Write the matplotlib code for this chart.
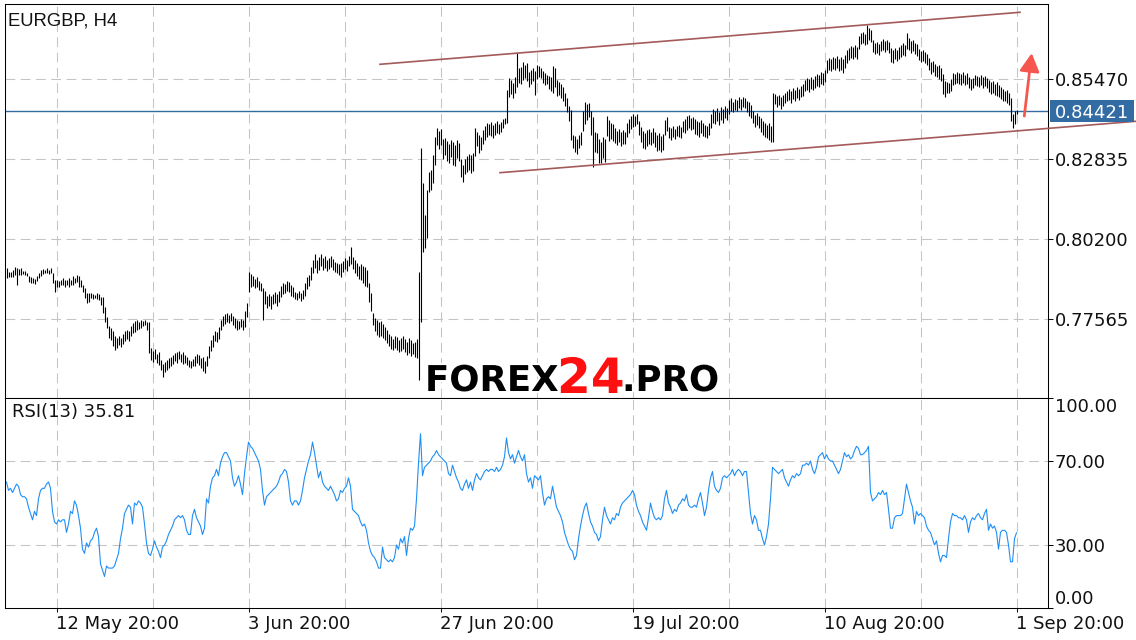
import numpy as np
import matplotlib.pyplot as plt
from matplotlib.patches import Rectangle
from matplotlib import patheffects
from matplotlib.transforms import blended_transform_factory

plt.rcParams['lines.scale_dashes'] = False

# chart data
symbol = 'EURGBP, H4'
last_price = 0.84421
rsi_period = 13

price_ticks = [0.77565, 0.80200, 0.82835, 0.85470]
rsi_ticks = [0, 30, 70, 100]
date_labels = ['12 May 20:00', '3 Jun 20:00', '27 Jun 20:00',
               '19 Jul 20:00', '10 Aug 20:00', '1 Sep 20:00']
date_pos = [25, 121, 217, 313, 409, 505]
grid_pos = [25, 73, 121, 169, 217, 265, 313, 361, 409, 457, 505]

high = [
    0.7923, 0.7910, 0.7910, 0.7917, 0.7927, 0.7923, 0.7920, 0.7923, 0.7913, 0.7913,
    0.7907, 0.7897, 0.7893, 0.7890, 0.7887, 0.7897, 0.7907, 0.7917, 0.7920, 0.7917,
    0.7923, 0.7917, 0.7923, 0.7907, 0.7884, 0.7884, 0.7880, 0.7884, 0.7890, 0.7884,
    0.7884, 0.7890, 0.7884, 0.7897, 0.7890, 0.7900, 0.7897, 0.7884, 0.7868, 0.7857,
    0.7841, 0.7841, 0.7841, 0.7838, 0.7835, 0.7841, 0.7838, 0.7828, 0.7828, 0.7795,
    0.7762, 0.7733, 0.7726, 0.7716, 0.7700, 0.7693, 0.7700, 0.7693, 0.7706, 0.7716,
    0.7720, 0.7716, 0.7733, 0.7743, 0.7749, 0.7752, 0.7746, 0.7752, 0.7749, 0.7752,
    0.7746, 0.7746, 0.7660, 0.7650, 0.7656, 0.7640, 0.7646, 0.7620, 0.7607, 0.7614,
    0.7620, 0.7627, 0.7630, 0.7637, 0.7643, 0.7646, 0.7650, 0.7640, 0.7646, 0.7637,
    0.7630, 0.7620, 0.7617, 0.7623, 0.7633, 0.7640, 0.7637, 0.7627, 0.7630, 0.7617,
    0.7633, 0.7666, 0.7686, 0.7703, 0.7716, 0.7713, 0.7729, 0.7752, 0.7765, 0.7772,
    0.7775, 0.7768, 0.7775, 0.7765, 0.7759, 0.7752, 0.7749, 0.7755, 0.7752, 0.7782,
    0.7808, 0.7910, 0.7903, 0.7897, 0.7887, 0.7893, 0.7880, 0.7874, 0.7857, 0.7848,
    0.7831, 0.7838, 0.7831, 0.7838, 0.7844, 0.7838, 0.7848, 0.7864, 0.7874, 0.7871,
    0.7880, 0.7877, 0.7868, 0.7861, 0.7844, 0.7841, 0.7848, 0.7841, 0.7851, 0.7874,
    0.7893, 0.7900, 0.7927, 0.7950, 0.7970, 0.7950, 0.7960, 0.7970, 0.7957, 0.7963,
    0.7950, 0.7957, 0.7963, 0.7954, 0.7943, 0.7940, 0.7937, 0.7940, 0.7947, 0.7957,
    0.7950, 0.7963, 0.7993, 0.7960, 0.7950, 0.7940, 0.7930, 0.7937, 0.7930, 0.7927,
    0.7917, 0.7874, 0.7841, 0.7775, 0.7759, 0.7752, 0.7746, 0.7749, 0.7739, 0.7729,
    0.7720, 0.7706, 0.7700, 0.7690, 0.7700, 0.7696, 0.7686, 0.7693, 0.7700, 0.7690,
    0.7680, 0.7693, 0.7686, 0.7676, 0.7680, 0.7690, 0.7910, 0.8319, 0.8203, 0.8098,
    0.8180, 0.8240, 0.8246, 0.8296, 0.8355, 0.8385, 0.8375, 0.8381, 0.8349, 0.8352,
    0.8342, 0.8332, 0.8345, 0.8339, 0.8329, 0.8345, 0.8336, 0.8283, 0.8263, 0.8283,
    0.8293, 0.8300, 0.8296, 0.8303, 0.8385, 0.8372, 0.8362, 0.8355, 0.8378, 0.8391,
    0.8401, 0.8398, 0.8404, 0.8395, 0.8401, 0.8408, 0.8398, 0.8404, 0.8414, 0.8418,
    0.8510, 0.8549, 0.8543, 0.8533, 0.8553, 0.8632, 0.8583, 0.8586, 0.8602, 0.8592,
    0.8599, 0.8570, 0.8576, 0.8583, 0.8573, 0.8592, 0.8589, 0.8583, 0.8573, 0.8566,
    0.8560, 0.8556, 0.8553, 0.8589, 0.8583, 0.8543, 0.8536, 0.8530, 0.8520, 0.8500,
    0.8484, 0.8458, 0.8445, 0.8362, 0.8358, 0.8349, 0.8362, 0.8372, 0.8441, 0.8471,
    0.8464, 0.8468, 0.8441, 0.8421, 0.8372, 0.8368, 0.8349, 0.8339, 0.8355, 0.8349,
    0.8424, 0.8411, 0.8401, 0.8398, 0.8385, 0.8375, 0.8381, 0.8372, 0.8378, 0.8372,
    0.8401, 0.8414, 0.8424, 0.8431, 0.8424, 0.8431, 0.8408, 0.8388, 0.8375, 0.8368,
    0.8378, 0.8381, 0.8372, 0.8385, 0.8372, 0.8362, 0.8368, 0.8358, 0.8365, 0.8411,
    0.8421, 0.8388, 0.8385, 0.8391, 0.8381, 0.8391, 0.8395, 0.8388, 0.8408, 0.8414,
    0.8424, 0.8428, 0.8418, 0.8421, 0.8414, 0.8408, 0.8404, 0.8411, 0.8401, 0.8395,
    0.8391, 0.8401, 0.8431, 0.8447, 0.8441, 0.8451, 0.8438, 0.8454, 0.8447, 0.8458,
    0.8451, 0.8477, 0.8484, 0.8471, 0.8481, 0.8477, 0.8487, 0.8481, 0.8487,
    0.8484, 0.8474, 0.8471, 0.8461, 0.8441, 0.8428, 0.8435, 0.8424, 0.8418, 0.8408,
    0.8401, 0.8395, 0.8401, 0.8391, 0.8500, 0.8497, 0.8490, 0.8494, 0.8487, 0.8494,
    0.8500, 0.8507, 0.8513, 0.8507, 0.8517, 0.8510, 0.8520, 0.8513, 0.8523, 0.8530,
    0.8543, 0.8550, 0.8546, 0.8553, 0.8546, 0.8556, 0.8563, 0.8560, 0.8569, 0.8566,
    0.8576, 0.8609, 0.8615, 0.8612, 0.8619, 0.8615, 0.8622, 0.8612, 0.8619, 0.8612,
    0.8625, 0.8642, 0.8648, 0.8655, 0.8652, 0.8658, 0.8652, 0.8688, 0.8698, 0.8701,
    0.8694, 0.8724, 0.8714, 0.8707, 0.8675, 0.8665, 0.8668, 0.8661, 0.8671, 0.8678,
    0.8671, 0.8675, 0.8668, 0.8648, 0.8642, 0.8648, 0.8642, 0.8652, 0.8658, 0.8665,
    0.8658, 0.8698, 0.8681, 0.8671, 0.8675, 0.8665, 0.8661, 0.8645, 0.8638, 0.8642,
    0.8635, 0.8629, 0.8615, 0.8602, 0.8606, 0.8596, 0.8589, 0.8592, 0.8583, 0.8563,
    0.8540, 0.8536, 0.8533, 0.8546, 0.8566, 0.8563, 0.8570, 0.8566, 0.8563, 0.8569,
    0.8560, 0.8566, 0.8553, 0.8546, 0.8550, 0.8560, 0.8556, 0.8553, 0.8560, 0.8553,
    0.8556, 0.8550, 0.8543, 0.8536, 0.8540, 0.8530, 0.8536, 0.8526, 0.8520, 0.8513,
    0.8507, 0.8510, 0.8500, 0.8484, 0.8431, 0.8441, 0.8445,
]

low = [
    0.7891, 0.7894, 0.7894, 0.7894, 0.7900, 0.7868, 0.7900, 0.7900, 0.7903, 0.7900,
    0.7897, 0.7877, 0.7874, 0.7874, 0.7870, 0.7880, 0.7890, 0.7897, 0.7903, 0.7907,
    0.7907, 0.7903, 0.7907, 0.7874, 0.7844, 0.7861, 0.7861, 0.7868, 0.7868, 0.7861,
    0.7868, 0.7861, 0.7868, 0.7868, 0.7874, 0.7877, 0.7861, 0.7861, 0.7844, 0.7824,
    0.7808, 0.7811, 0.7824, 0.7821, 0.7824, 0.7821, 0.7818, 0.7802, 0.7775, 0.7746,
    0.7726, 0.7693, 0.7686, 0.7666, 0.7653, 0.7660, 0.7670, 0.7663, 0.7673, 0.7683,
    0.7690, 0.7683, 0.7700, 0.7709, 0.7713, 0.7719, 0.7722, 0.7726, 0.7733, 0.7736,
    0.7719, 0.7643, 0.7620, 0.7614, 0.7623, 0.7610, 0.7604, 0.7587, 0.7564, 0.7580,
    0.7587, 0.7594, 0.7600, 0.7607, 0.7617, 0.7610, 0.7623, 0.7613, 0.7607, 0.7610,
    0.7604, 0.7597, 0.7594, 0.7600, 0.7600, 0.7610, 0.7604, 0.7594, 0.7584, 0.7577,
    0.7600, 0.7627, 0.7650, 0.7663, 0.7683, 0.7680, 0.7690, 0.7719, 0.7733, 0.7739,
    0.7746, 0.7742, 0.7749, 0.7736, 0.7726, 0.7719, 0.7722, 0.7729, 0.7719, 0.7729,
    0.7762, 0.7844, 0.7861, 0.7864, 0.7857, 0.7861, 0.7851, 0.7848, 0.7752, 0.7805,
    0.7792, 0.7798, 0.7788, 0.7805, 0.7808, 0.7798, 0.7811, 0.7828, 0.7838, 0.7841,
    0.7848, 0.7844, 0.7831, 0.7828, 0.7821, 0.7818, 0.7824, 0.7815, 0.7821, 0.7831,
    0.7854, 0.7864, 0.7884, 0.7907, 0.7923, 0.7907, 0.7917, 0.7930, 0.7917, 0.7923,
    0.7913, 0.7920, 0.7927, 0.7917, 0.7910, 0.7907, 0.7900, 0.7894, 0.7910, 0.7920,
    0.7913, 0.7930, 0.7937, 0.7920, 0.7907, 0.7897, 0.7887, 0.7884, 0.7874, 0.7864,
    0.7861, 0.7811, 0.7782, 0.7736, 0.7716, 0.7703, 0.7696, 0.7700, 0.7693, 0.7686,
    0.7676, 0.7666, 0.7656, 0.7653, 0.7660, 0.7653, 0.7646, 0.7650, 0.7656, 0.7646,
    0.7637, 0.7643, 0.7633, 0.7640, 0.7630, 0.7627, 0.7555, 0.7746, 0.7976, 0.7989,
    0.8022, 0.8174, 0.8180, 0.8203, 0.8263, 0.8329, 0.8316, 0.8329, 0.8283, 0.8296,
    0.8276, 0.8269, 0.8290, 0.8263, 0.8260, 0.8286, 0.8276, 0.8223, 0.8207, 0.8233,
    0.8240, 0.8246, 0.8236, 0.8243, 0.8293, 0.8326, 0.8303, 0.8313, 0.8332, 0.8345,
    0.8355, 0.8362, 0.8358, 0.8352, 0.8362, 0.8368, 0.8365, 0.8372, 0.8385, 0.8398,
    0.8401, 0.8487, 0.8497, 0.8484, 0.8500, 0.8520, 0.8533, 0.8530, 0.8543, 0.8549,
    0.8540, 0.8520, 0.8530, 0.8540, 0.8494, 0.8546, 0.8553, 0.8549, 0.8533, 0.8526,
    0.8530, 0.8513, 0.8507, 0.8500, 0.8520, 0.8490, 0.8494, 0.8484, 0.8474, 0.8458,
    0.8438, 0.8408, 0.8345, 0.8319, 0.8306, 0.8299, 0.8319, 0.8329, 0.8375, 0.8398,
    0.8411, 0.8421, 0.8362, 0.8257, 0.8306, 0.8303, 0.8270, 0.8270, 0.8286, 0.8273,
    0.8358, 0.8342, 0.8349, 0.8342, 0.8336, 0.8329, 0.8339, 0.8326, 0.8332, 0.8332,
    0.8355, 0.8368, 0.8381, 0.8388, 0.8391, 0.8398, 0.8362, 0.8339, 0.8319, 0.8316,
    0.8326, 0.8332, 0.8329, 0.8336, 0.8322, 0.8309, 0.8313, 0.8306, 0.8313, 0.8362,
    0.8375, 0.8352, 0.8345, 0.8355, 0.8349, 0.8358, 0.8355, 0.8352, 0.8372, 0.8368,
    0.8378, 0.8385, 0.8378, 0.8381, 0.8365, 0.8362, 0.8355, 0.8368, 0.8358, 0.8355,
    0.8352, 0.8362, 0.8385, 0.8401, 0.8398, 0.8408, 0.8395, 0.8411, 0.8401, 0.8418,
    0.8411, 0.8431, 0.8441, 0.8438, 0.8445, 0.8441, 0.8451, 0.8445, 0.8454,
    0.8451, 0.8438, 0.8425, 0.8418, 0.8401, 0.8388, 0.8395, 0.8385, 0.8372, 0.8362,
    0.8355, 0.8352, 0.8345, 0.8339, 0.8339, 0.8464, 0.8454, 0.8461, 0.8448, 0.8458,
    0.8468, 0.8474, 0.8477, 0.8468, 0.8481, 0.8474, 0.8484, 0.8477, 0.8487, 0.8490,
    0.8507, 0.8510, 0.8504, 0.8513, 0.8510, 0.8517, 0.8523, 0.8520, 0.8530, 0.8526,
    0.8536, 0.8566, 0.8576, 0.8573, 0.8579, 0.8576, 0.8583, 0.8573, 0.8576, 0.8566,
    0.8583, 0.8599, 0.8609, 0.8615, 0.8612, 0.8619, 0.8612, 0.8645, 0.8661, 0.8665,
    0.8658, 0.8661, 0.8675, 0.8668, 0.8635, 0.8629, 0.8632, 0.8625, 0.8638, 0.8642,
    0.8635, 0.8642, 0.8632, 0.8602, 0.8599, 0.8612, 0.8606, 0.8612, 0.8619, 0.8625,
    0.8622, 0.8645, 0.8642, 0.8632, 0.8638, 0.8629, 0.8622, 0.8609, 0.8602, 0.8606,
    0.8599, 0.8592, 0.8576, 0.8563, 0.8569, 0.8556, 0.8553, 0.8546, 0.8540, 0.8497,
    0.8487, 0.8500, 0.8500, 0.8507, 0.8526, 0.8530, 0.8533, 0.8530, 0.8526, 0.8533,
    0.8526, 0.8530, 0.8517, 0.8510, 0.8517, 0.8526, 0.8523, 0.8520, 0.8526, 0.8517,
    0.8523, 0.8517, 0.8504, 0.8497, 0.8500, 0.8494, 0.8490, 0.8487, 0.8481, 0.8474,
    0.8474, 0.8468, 0.8461, 0.8408, 0.8385, 0.8398, 0.8431,
]

rsi = [
    60, 56, 57, 55, 57, 59, 58, 54, 53, 53,
    52, 48, 45, 42, 46, 44, 52, 56, 57, 57,
    59, 60, 57, 46, 41, 40, 42, 41, 42, 42,
    36, 40, 46, 45, 51, 49, 44, 38, 28, 26,
    31, 29, 32, 33, 36, 38, 34, 21, 18, 15,
    20, 19, 19, 19, 20, 23, 26, 33, 38, 45,
    47, 49, 48, 40, 50, 49, 51, 50, 48, 40,
    31, 26, 25, 28, 32, 29, 27, 24, 29, 30,
    32, 35, 37, 39, 42, 43, 44, 43, 44, 42,
    37, 35, 35, 44, 47, 43, 41, 39, 35, 38,
    52, 50, 58, 62, 63, 66, 63, 69, 72, 74,
    74, 72, 70, 62, 58, 60, 63, 59, 54, 64,
    72, 79, 77, 76, 74, 72, 70, 66, 56, 49,
    53, 54, 55, 56, 57, 58, 60, 63, 64, 66,
    65, 60, 51, 49, 51, 51, 49, 51, 56, 62,
    66, 70, 73, 79, 74, 68, 62, 65, 60, 58,
    57, 56, 58, 56, 54, 51, 52, 56, 55, 57,
    58, 62, 58, 47, 46, 45, 44, 41, 39, 40,
    37, 31, 27, 25, 24, 22, 19, 19, 29, 24,
    23, 22, 23, 22, 24, 30, 28, 33, 31, 34,
    25, 33, 38, 37, 39, 52, 69, 83, 63, 67,
    68, 69, 70, 72, 73, 75, 73, 72, 71, 70,
    69, 64, 63, 68, 65, 62, 60, 57, 56, 59,
    61, 57, 60, 56, 61, 64, 62, 61, 63, 65,
    66, 65, 66, 66, 65, 67, 65, 66, 68, 72,
    81, 74, 71, 73, 69, 72, 75, 72, 70, 73,
    64, 60, 62, 57, 63, 62, 61, 63, 55, 49,
    52, 53, 52, 58, 53, 48, 46, 44, 41, 36,
    33, 30, 28, 27, 23, 25, 33, 39, 44, 48,
    50, 45, 41, 39, 36, 35, 32, 34, 42, 48,
    44, 42, 40, 43, 42, 45, 44, 48, 50, 51,
    52, 53, 54, 56, 54, 49, 46, 44, 41, 39,
    37, 43, 50, 46, 43, 42, 43, 42, 44, 52,
    56, 50, 48, 45, 47, 46, 49, 50, 52, 51,
    54, 49, 48, 48, 49, 48, 52, 55, 50, 44,
    48, 56, 62, 65, 58, 56, 55, 57, 62, 63,
    62, 63, 64, 66, 63, 65, 66, 65, 63, 65,
    65, 55, 45, 40, 44, 42, 37, 37, 33, 30,
    34, 40, 52, 67, 66, 65, 64, 65, 66, 62,
    60, 58, 61, 63, 62, 64, 63, 64, 68, 68,
    69, 68, 70, 66, 64, 67, 72, 73, 74, 71,
    73, 71, 70, 70, 68, 66, 64, 66, 70, 74,
    72, 73, 71, 72, 75, 77, 76, 73, 73, 74,
    75, 77, 55, 51, 52, 53, 55, 54, 56, 54,
    55, 47, 38, 38, 43, 44, 44, 44, 45, 52,
    59, 55, 51, 48, 40, 46, 44, 45, 44, 43,
    39, 37, 36, 33, 30, 32, 26, 22, 25, 25,
    24, 33, 41, 45, 44, 44, 43, 43, 42, 44,
    42, 36, 41, 43, 42, 44, 45, 43, 42, 45,
    47, 37, 40, 38, 39, 36, 28, 36, 37, 37,
    36, 30, 22, 22, 33, 35.81,
]

# trend channel drawn on the chart: (bar index, price)
upper_x, upper_y = [186.75, 506.75], [0.85944, 0.87657]
lower_x, lower_y = [246.75, 564.75], [0.82374, 0.84067]
arrow_start = (508.9, 0.8424)
arrow_end = (512.6, 0.8631)

W, H = 1136, 640
fig = plt.figure(figsize=(W / 100, H / 100), dpi=100)
fig.patch.set_facecolor('white')

left, width = 4.5 / W, 1043.5 / W
ax = fig.add_axes([left, 242 / H, width, 394 / H])
ax2 = fig.add_axes([left, 32 / H, width, 210 / H])

grid_kw = dict(color='#c4c4c4', lw=0.75, ls=(0, (7, 4)), zorder=0)
blue = '#336ca3'

# price panel
x = np.arange(len(high))
ax.vlines(x, low, high, color='black', lw=0.8, snap=True, zorder=3)
ax.set_xlim(-1, 520.75)
ax.set_ylim(0.74953, 0.87930)
for g in grid_pos:
    ax.axvline(g, **grid_kw)
for p in price_ticks:
    ax.axhline(p, **grid_kw)
ax.axhline(last_price, color=blue, lw=1.0, zorder=2)

ax.plot(upper_x, upper_y, color='#a35a5a', lw=1.2, zorder=4)
ax.plot(lower_x, lower_y, color='#a35a5a', lw=1.2, zorder=4, clip_on=False)
ax.annotate('', xy=arrow_end, xytext=arrow_start,
            arrowprops=dict(arrowstyle='-|>,head_length=0.55,head_width=0.3',
                            color='#f5574f', lw=2.0, shrinkA=0, shrinkB=0,
                            mutation_scale=20),
            annotation_clip=False, zorder=5)

ax.set_xticks([])
ax.yaxis.tick_right()
ax.set_yticks(price_ticks)
ax.set_yticklabels([f'{p:.5f}' for p in price_ticks])
ax.tick_params(axis='y', direction='out', length=3.6, width=0.75, pad=1.5,
               labelsize=13, colors='#111111')

# current price label
trans = blended_transform_factory(ax.transAxes, ax.transData)
ppx = (ax.get_ylim()[1] - ax.get_ylim()[0]) / 394
ax.add_patch(Rectangle(((1050 - 4.5) / 1043.5, last_price - 11 * ppx),
                       84 / 1043.5, 22 * ppx, transform=trans,
                       facecolor=blue, edgecolor='none', clip_on=False, zorder=6))
ax.text((1055 - 4.5) / 1043.5, last_price, f'{last_price:.5f}', transform=trans,
        color='white', fontsize=13, va='center_baseline', ha='left',
        clip_on=False, zorder=7)

# RSI panel
ax2.plot(np.arange(len(rsi)), rsi, color='#1f8ff5', lw=0.8, zorder=3)
ax2.set_xlim(-1, 520.75)
ax2.set_ylim(0, 100)
for g in grid_pos:
    ax2.axvline(g, **grid_kw)
for r in [30, 70]:
    ax2.axhline(r, **grid_kw)
ax2.set_xticks(date_pos)
ax2.set_xticklabels(date_labels, ha='left')
ax2.tick_params(axis='x', direction='out', length=2.9, width=0.75, pad=1.8,
                labelsize=13, colors='#111111')
ax2.yaxis.tick_right()
ax2.set_yticks(rsi_ticks)
ax2.set_yticklabels([])
ax2.tick_params(axis='y', direction='out', length=3.6, width=0.75)
trans2 = blended_transform_factory(ax2.transAxes, ax2.transData)
lx = (1055 - 4.5) / 1043.5
for r in rsi_ticks:
    va = {0: 'bottom', 100: 'top'}.get(r, 'center_baseline')
    ax2.text(lx, r, f'{r:.2f}', transform=trans2, fontsize=13, va=va,
             ha='left', color='#111111', clip_on=False)

for a in (ax, ax2):
    for s in a.spines.values():
        s.set_linewidth(0.75)
        s.set_color('black')

fig.text(8 / W, 1 - 12 / H, symbol, fontsize=13.3, family='Liberation Sans',
         va='top', ha='left', color='#111111')
ax2.text(7 / 1043.5, 1 - 5 / 210, f'RSI({rsi_period}) {rsi[-1]:.2f}',
         transform=ax2.transAxes, fontsize=13, va='top', ha='left',
         color='#111111')

# watermark
halo = [patheffects.withStroke(linewidth=3, foreground='white')]
fig.text(425 / W, 1 - 391 / H, 'FOREX', fontsize=25.6, weight='bold',
         va='baseline', ha='left', color='black', path_effects=halo)
fig.text(557 / W, 1 - 393 / H, '24', fontsize=35, weight='bold',
         va='baseline', ha='left', color='#ff1010', path_effects=halo)
fig.text(622 / W, 1 - 391 / H, '.PRO', fontsize=25.6, weight='bold',
         va='baseline', ha='left', color='black', path_effects=halo)

fig.savefig('out.png', dpi=100)
